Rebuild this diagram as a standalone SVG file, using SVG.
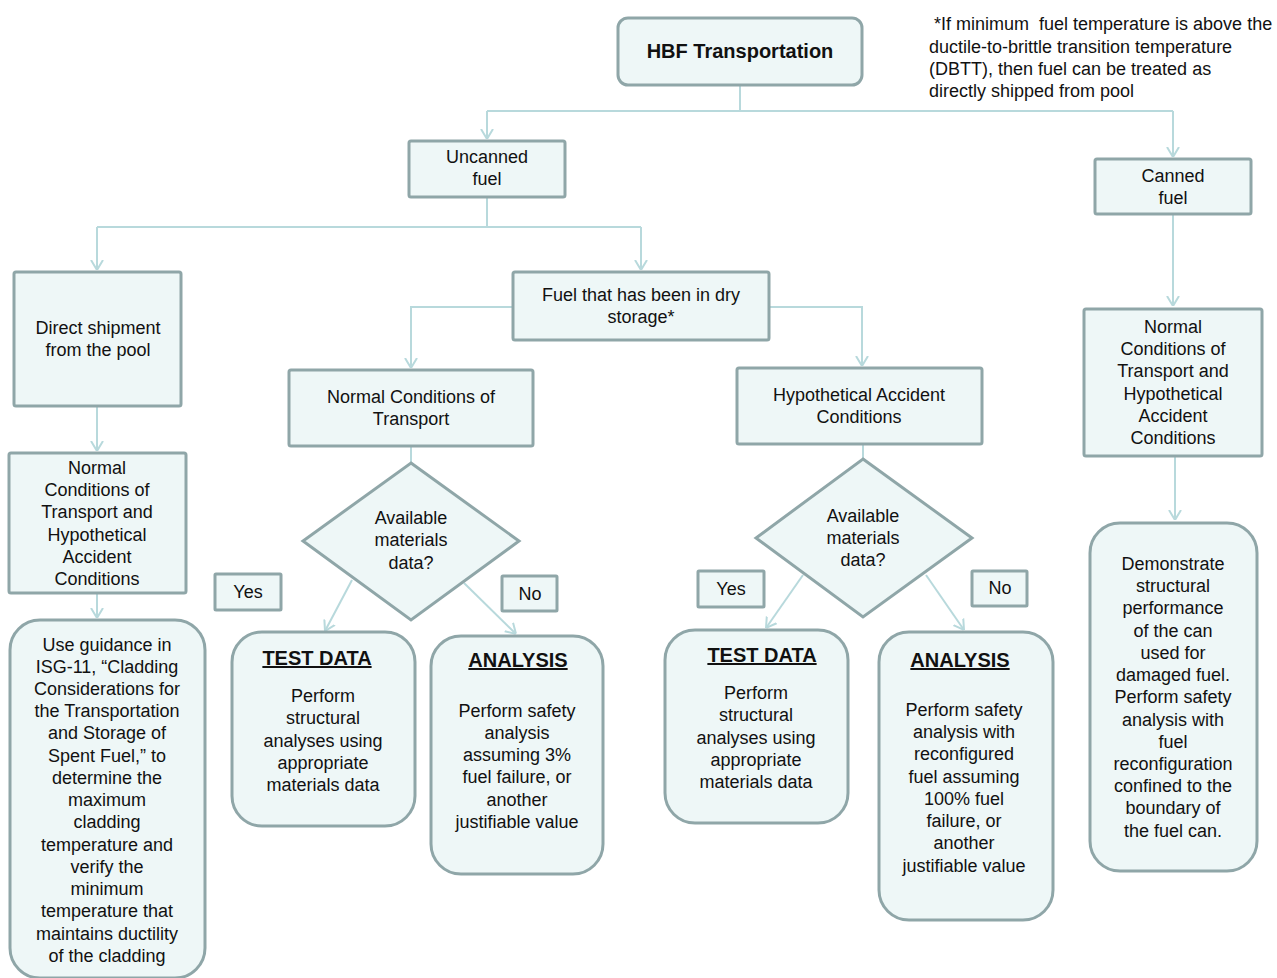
<svg xmlns="http://www.w3.org/2000/svg" width="1277" height="978" viewBox="0 0 1277 978">
<defs>
<style>
.box{fill:#eef7f7;stroke:#8fa6a8;stroke-width:3}
.t{font-family:"Liberation Sans",Arial,sans-serif;font-size:18px;fill:#111;text-anchor:middle}
.n{font-family:"Liberation Sans",Arial,sans-serif;font-size:18px;fill:#111;white-space:pre}
.b{font-family:"Liberation Sans",Arial,sans-serif;font-size:20px;font-weight:bold;fill:#111;text-anchor:middle}
.u{text-decoration:underline}
.c{fill:none;stroke:#b8d9dc;stroke-width:2}
</style>
<marker id="ah" markerUnits="userSpaceOnUse" viewBox="0 0 10 14" refX="10" refY="7" markerWidth="10" markerHeight="14" orient="auto">
<path d="M0,1 L10,7 L0,13" fill="none" stroke="#b8d9dc" stroke-width="2"/>
</marker>
</defs>
<rect width="1277" height="978" fill="#fff"/>

<g id="connectors">
<path class="c" d="M740,85 V111"/>
<path class="c" d="M487,111 H1173"/>
<path class="c" d="M487,111 V139" marker-end="url(#ah)"/>
<path class="c" d="M1173,111 V157" marker-end="url(#ah)"/>
<path class="c" d="M487,197 V227 M97,227 H641"/>
<path class="c" d="M97,227 V270" marker-end="url(#ah)"/>
<path class="c" d="M641,227 V270" marker-end="url(#ah)"/>
<path class="c" d="M513,307 H411 V368" marker-end="url(#ah)"/>
<path class="c" d="M769,307 H862 V366" marker-end="url(#ah)"/>
<path class="c" d="M97,406 V451" marker-end="url(#ah)"/>
<path class="c" d="M97,593 V618" marker-end="url(#ah)"/>
<path class="c" d="M411,446 V463"/>
<path class="c" d="M863,444 V459"/>
<path class="c" d="M352,580 L325,631" marker-end="url(#ah)"/>
<path class="c" d="M464,583 L516,634" marker-end="url(#ah)"/>
<path class="c" d="M803,575 L766,628" marker-end="url(#ah)"/>
<path class="c" d="M926,575 L964,630" marker-end="url(#ah)"/>
<path class="c" d="M1173,214 V306" marker-end="url(#ah)"/>
<path class="c" d="M1175,456 V520" marker-end="url(#ah)"/>
</g>

<g id="hbf">
<rect class="box" x="618" y="18" width="244" height="67" rx="10"/>
<text class="b" x="740" y="58">HBF Transportation</text>
</g>

<g id="note">
<text class="n" x="934" y="30">*If minimum  fuel temperature is above the</text>
<text class="n" x="929" y="53">ductile-to-brittle transition temperature</text>
<text class="n" x="929" y="75">(DBTT), then fuel can be treated as</text>
<text class="n" x="929" y="97">directly shipped from pool</text>
</g>

<g id="uncanned">
<rect class="box" x="409" y="141" width="156" height="56" rx="2"/>
<text class="t" x="487" y="163">Uncanned</text>
<text class="t" x="487" y="185">fuel</text>
</g>

<g id="canned">
<rect class="box" x="1095" y="159" width="156" height="55" rx="2"/>
<text class="t" x="1173" y="182">Canned</text>
<text class="t" x="1173" y="204">fuel</text>
</g>

<g id="direct">
<rect class="box" x="14" y="272" width="167" height="134" rx="2"/>
<text class="t" x="98" y="334">Direct shipment</text>
<text class="t" x="98" y="356">from the pool</text>
</g>

<g id="drystorage">
<rect class="box" x="513" y="272" width="256" height="68" rx="2"/>
<text class="t" x="641" y="301">Fuel that has been in dry</text>
<text class="t" x="641" y="323">storage*</text>
</g>

<g id="nct">
<rect class="box" x="289" y="370" width="244" height="76" rx="2"/>
<text class="t" x="411" y="403">Normal Conditions of</text>
<text class="t" x="411" y="425">Transport</text>
</g>

<g id="hac">
<rect class="box" x="737" y="368" width="245" height="76" rx="2"/>
<text class="t" x="859" y="401">Hypothetical Accident</text>
<text class="t" x="859" y="423">Conditions</text>
</g>

<g id="nct-hac-left">
<rect class="box" x="9" y="453" width="177" height="140" rx="2"/>
<text class="t" x="97" y="474">Normal</text>
<text class="t" x="97" y="496">Conditions of</text>
<text class="t" x="97" y="518">Transport and</text>
<text class="t" x="97" y="541">Hypothetical</text>
<text class="t" x="97" y="563">Accident</text>
<text class="t" x="97" y="585">Conditions</text>
</g>

<g id="guidance">
<rect class="box" x="10" y="620" width="195" height="358" rx="30"/>
<text class="t" x="107" y="651">Use guidance in</text>
<text class="t" x="107" y="673">ISG-11, “Cladding</text>
<text class="t" x="107" y="695">Considerations for</text>
<text class="t" x="107" y="717">the Transportation</text>
<text class="t" x="107" y="739">and Storage of</text>
<text class="t" x="107" y="762">Spent Fuel,” to</text>
<text class="t" x="107" y="784">determine the</text>
<text class="t" x="107" y="806">maximum</text>
<text class="t" x="107" y="828">cladding</text>
<text class="t" x="107" y="851">temperature and</text>
<text class="t" x="107" y="873">verify the</text>
<text class="t" x="107" y="895">minimum</text>
<text class="t" x="107" y="917">temperature that</text>
<text class="t" x="107" y="940">maintains ductility</text>
<text class="t" x="107" y="962">of the cladding</text>
</g>

<g id="diamond1">
<polygon class="box" points="411,463 519,541 411,620 303,541"/>
<text class="t" x="411" y="524">Available</text>
<text class="t" x="411" y="546">materials</text>
<text class="t" x="411" y="569">data?</text>
</g>

<g id="yes1">
<rect class="box" x="215" y="574" width="66" height="36" rx="1"/>
<text class="t" x="248" y="598">Yes</text>
</g>

<g id="no1">
<rect class="box" x="502" y="576" width="55" height="35" rx="1"/>
<text class="t" x="530" y="600">No</text>
</g>

<g id="testdata1">
<rect class="box" x="232" y="632" width="183" height="194" rx="30"/>
<text class="b u" x="317" y="665">TEST DATA</text>
<text class="t" x="323" y="702">Perform</text>
<text class="t" x="323" y="724">structural</text>
<text class="t" x="323" y="747">analyses using</text>
<text class="t" x="323" y="769">appropriate</text>
<text class="t" x="323" y="791">materials data</text>
</g>

<g id="analysis1">
<rect class="box" x="431" y="636" width="172" height="238" rx="30"/>
<text class="b u" x="518" y="667">ANALYSIS</text>
<text class="t" x="517" y="717">Perform safety</text>
<text class="t" x="517" y="739">analysis</text>
<text class="t" x="517" y="761">assuming 3%</text>
<text class="t" x="517" y="783">fuel failure, or</text>
<text class="t" x="517" y="806">another</text>
<text class="t" x="517" y="828">justifiable value</text>
</g>

<g id="diamond2">
<polygon class="box" points="863,459 972,538 863,617 756,538"/>
<text class="t" x="863" y="522">Available</text>
<text class="t" x="863" y="544">materials</text>
<text class="t" x="863" y="566">data?</text>
</g>

<g id="yes2">
<rect class="box" x="698" y="571" width="66" height="36" rx="1"/>
<text class="t" x="731" y="595">Yes</text>
</g>

<g id="no2">
<rect class="box" x="972" y="571" width="55" height="35" rx="1"/>
<text class="t" x="1000" y="594">No</text>
</g>

<g id="testdata2">
<rect class="box" x="665" y="630" width="183" height="193" rx="30"/>
<text class="b u" x="762" y="662">TEST DATA</text>
<text class="t" x="756" y="699">Perform</text>
<text class="t" x="756" y="721">structural</text>
<text class="t" x="756" y="744">analyses using</text>
<text class="t" x="756" y="766">appropriate</text>
<text class="t" x="756" y="788">materials data</text>
</g>

<g id="analysis2">
<rect class="box" x="879" y="632" width="174" height="288" rx="30"/>
<text class="b u" x="960" y="667">ANALYSIS</text>
<text class="t" x="964" y="716">Perform safety</text>
<text class="t" x="964" y="738">analysis with</text>
<text class="t" x="964" y="760">reconfigured</text>
<text class="t" x="964" y="783">fuel assuming</text>
<text class="t" x="964" y="805">100% fuel</text>
<text class="t" x="964" y="827">failure, or</text>
<text class="t" x="964" y="849">another</text>
<text class="t" x="964" y="872">justifiable value</text>
</g>

<g id="nct-hac-right">
<rect class="box" x="1084" y="309" width="178" height="147" rx="2"/>
<text class="t" x="1173" y="333">Normal</text>
<text class="t" x="1173" y="355">Conditions of</text>
<text class="t" x="1173" y="377">Transport and</text>
<text class="t" x="1173" y="400">Hypothetical</text>
<text class="t" x="1173" y="422">Accident</text>
<text class="t" x="1173" y="444">Conditions</text>
</g>

<g id="demonstrate">
<rect class="box" x="1090" y="523" width="167" height="348" rx="30"/>
<text class="t" x="1173" y="570">Demonstrate</text>
<text class="t" x="1173" y="592">structural</text>
<text class="t" x="1173" y="614">performance</text>
<text class="t" x="1173" y="637">of the can</text>
<text class="t" x="1173" y="659">used for</text>
<text class="t" x="1173" y="681">damaged fuel.</text>
<text class="t" x="1173" y="703">Perform safety</text>
<text class="t" x="1173" y="726">analysis with</text>
<text class="t" x="1173" y="748">fuel</text>
<text class="t" x="1173" y="770">reconfiguration</text>
<text class="t" x="1173" y="792">confined to the</text>
<text class="t" x="1173" y="814">boundary of</text>
<text class="t" x="1173" y="837">the fuel can.</text>
</g>
</svg>
